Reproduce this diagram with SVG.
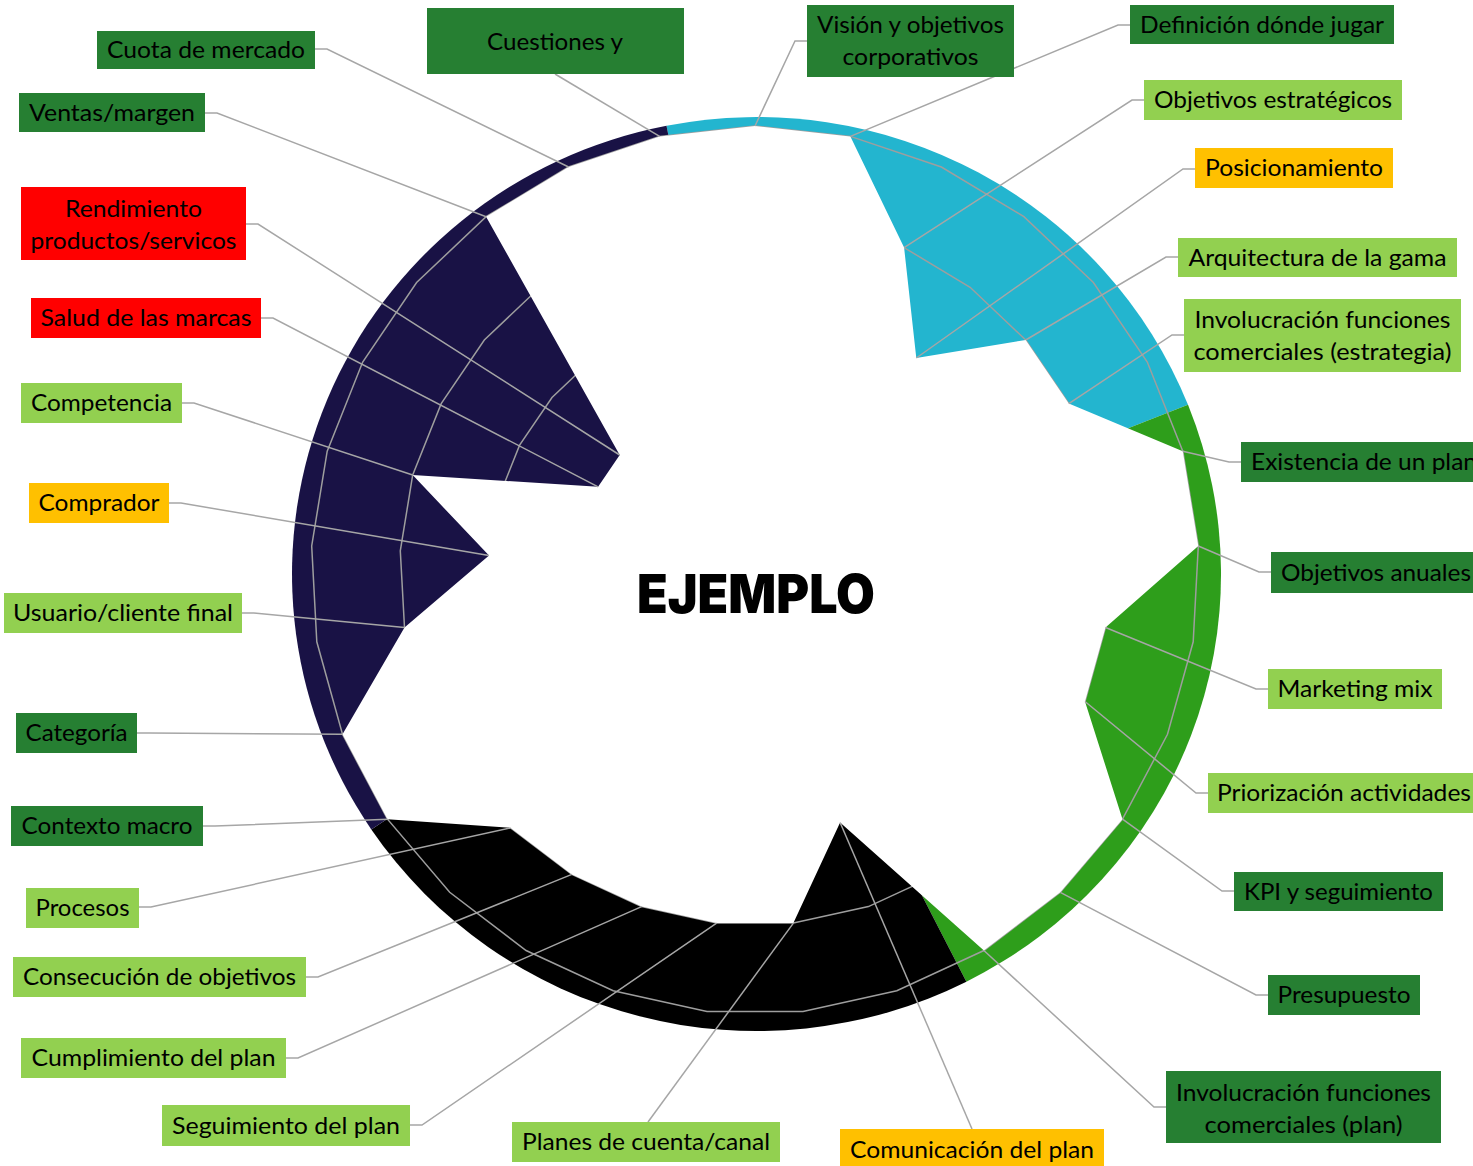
<svg xmlns="http://www.w3.org/2000/svg" width="1473" height="1166" viewBox="0 0 1473 1166">
<style>
.lb text{font-family:Lato,"Liberation Sans",sans-serif;font-size:24px;fill:#000;text-anchor:middle}
.dg{fill:#267f32}.lg{fill:#92d050}.or{fill:#ffc000}.rd{fill:#ff0000}
.grid{fill:none;stroke:#9e9e9e;stroke-width:1.5}
#connectors polyline{fill:none;stroke:#a6a6a6;stroke-width:1.5}
</style>
<rect width="1473" height="1166" fill="#fff"/>
<g id="ring">
<path d="M756.5,574 L666.5,125.7 A464.5,457 0 0 1 1188,404.8 Z" fill="#23b5cf"/>
<path d="M756.5,574 L1188,404.8 A464.5,457 0 0 1 966.4,981.7 Z" fill="#2e9e1b"/>
<path d="M756.5,574 L966.4,981.7 A464.5,457 0 0 1 371.3,829.4 Z" fill="#000"/>
<path d="M756.5,574 L371.3,829.4 A464.5,457 0 0 1 666.5,125.7 Z" fill="#191245"/>
</g>
<g id="grid">
<polygon class="grid" points="755,126 850.4,136.4 941.4,167 1023.9,216.7 1093.4,282.5 1147.3,362 1182.8,451.2 1198.3,546 1193.2,641.8 1167.5,734.3 1122.5,819.2 1060.3,892.3 983.9,950.5 896.8,990.8 803,1011.4 707,1011.4 613.2,990.8 526.1,950.5 449.7,892.3 387.5,819.2 342.5,734.3 316.8,641.8 311.7,546 327.2,451.2 362.7,362 416.6,282.5 486.1,216.7 568.6,167 659.6,136.4"/>
<polygon class="grid" points="755,214.8 831.4,223.1 904.1,247.6 970.1,287.3 1025.7,340 1068.8,403.6 1097.3,475 1109.7,550.8 1105.5,627.5 1085,701.5 1049,769.3 999.3,827.9 938.1,874.4 868.4,906.6 793.4,923.1 716.6,923.1 641.6,906.6 571.9,874.4 510.7,827.9 461,769.3 425,701.5 404.5,627.5 400.3,550.8 412.7,475 441.2,403.6 484.3,340 539.9,287.3 605.9,247.6 678.6,223.1"/>
<polygon class="grid" points="755,303.6 812.3,309.8 866.9,328.2 916.3,358 958,397.5 990.4,445.2 1011.7,498.7 1021,555.6 1017.9,613.1 1002.5,668.6 975.5,719.5 938.2,763.4 892.3,798.3 840.1,822.5 783.8,834.8 726.2,834.8 669.9,822.5 617.7,798.3 571.8,763.4 534.5,719.5 507.5,668.6 492.1,613.1 489,555.6 498.3,498.7 519.6,445.2 552,397.5 593.7,358 643.1,328.2 697.7,309.8"/>
</g>
<polygon id="data" fill="#fff" points="755,126 850.4,136.4 904.1,247.6 916.3,358 1025.7,340 1068.8,403.6 1182.8,451.2 1198.3,546 1105.5,627.5 1085,701.5 1122.5,819.2 1060.3,892.3 983.9,950.5 840.1,822.5 793.4,923.1 716.6,923.1 641.6,906.6 571.9,874.4 510.7,827.9 387.5,819.2 342.5,734.3 404.5,627.5 489,555.6 412.7,475 598.1,486.8 619.7,455 486.1,216.7 568.6,167 659.6,136.4"/>
<g id="connectors">
<polyline points="555,74 659.6,136.4"/>
<polyline points="315,49 327,49 568.6,167"/>
<polyline points="205,113 217,113 486.1,216.7"/>
<polyline points="246,224 258,224 619.7,455"/>
<polyline points="261,318 273,318 598.1,486.8"/>
<polyline points="182,403 194,403 412.7,475"/>
<polyline points="169,503 181,503 489,555.6"/>
<polyline points="242,613 254,613 404.5,627.5"/>
<polyline points="137,733 149,733 342.5,734.3"/>
<polyline points="203,826 215,826 387.5,819.2"/>
<polyline points="139,907 151,907 510.7,827.9"/>
<polyline points="306,977 318,977 571.9,874.4"/>
<polyline points="286,1058 298,1058 641.6,906.6"/>
<polyline points="410,1125 422,1125 716.6,923.1"/>
<polyline points="648,1122 793.4,923.1"/>
<polyline points="972,1129 840.1,822.5"/>
<polyline points="1166,1107 1154,1107 983.9,950.5"/>
<polyline points="1268,995 1256,995 1060.3,892.3"/>
<polyline points="1234,891 1222,891 1122.5,819.2"/>
<polyline points="1208,793 1196,793 1085,701.5"/>
<polyline points="1268,689 1256,689 1105.5,627.5"/>
<polyline points="1271,572 1259,572 1198.3,546"/>
<polyline points="1241,462 1229,462 1182.8,451.2"/>
<polyline points="1184,335 1172,335 1068.8,403.6"/>
<polyline points="1178,257 1166,257 1025.7,340"/>
<polyline points="1195,169 1183,169 916.3,358"/>
<polyline points="1144,100 1132,100 904.1,247.6"/>
<polyline points="1130,25 1118,25 850.4,136.4"/>
<polyline points="807,41 795,41 755,126"/>
</g>
<g class="lb">
<g id="n-cuestiones"><rect class="dg" x="427" y="8" width="257" height="66"/><text x="555" y="50" textLength="136" lengthAdjust="spacingAndGlyphs">Cuestiones y</text></g>
<g id="n-cuota"><rect class="dg" x="97" y="31" width="218" height="38"/><text x="206" y="58" textLength="198" lengthAdjust="spacingAndGlyphs">Cuota de mercado</text></g>
<g id="n-ventas"><rect class="dg" x="19" y="93" width="186" height="39"/><text x="112" y="121" textLength="166" lengthAdjust="spacingAndGlyphs">Ventas/margen</text></g>
<g id="n-rendimiento"><rect class="rd" x="21" y="187" width="225" height="73"/><text x="133.5" y="217" textLength="137" lengthAdjust="spacingAndGlyphs">Rendimiento</text><text x="133.5" y="249" textLength="206" lengthAdjust="spacingAndGlyphs">productos/servicos</text></g>
<g id="n-salud"><rect class="rd" x="31" y="298" width="230" height="40"/><text x="146" y="326" textLength="211" lengthAdjust="spacingAndGlyphs">Salud de las marcas</text></g>
<g id="n-competencia"><rect class="lg" x="21" y="383" width="161" height="40"/><text x="101.5" y="411" textLength="141" lengthAdjust="spacingAndGlyphs">Competencia</text></g>
<g id="n-comprador"><rect class="or" x="29" y="483" width="140" height="40"/><text x="99" y="511" textLength="121" lengthAdjust="spacingAndGlyphs">Comprador</text></g>
<g id="n-usuario"><rect class="lg" x="4" y="593" width="238" height="40"/><text x="123" y="621" textLength="220" lengthAdjust="spacingAndGlyphs">Usuario/cliente final</text></g>
<g id="n-categoria"><rect class="dg" x="16" y="713" width="121" height="40"/><text x="76.5" y="741" textLength="102" lengthAdjust="spacingAndGlyphs">Categoría</text></g>
<g id="n-contexto"><rect class="dg" x="11" y="806" width="192" height="40"/><text x="107" y="834" textLength="171" lengthAdjust="spacingAndGlyphs">Contexto macro</text></g>
<g id="n-procesos"><rect class="lg" x="26" y="888" width="113" height="40"/><text x="82.5" y="916" textLength="94" lengthAdjust="spacingAndGlyphs">Procesos</text></g>
<g id="n-consecucion"><rect class="lg" x="13" y="957" width="293" height="40"/><text x="159.5" y="985" textLength="273" lengthAdjust="spacingAndGlyphs">Consecución de objetivos</text></g>
<g id="n-cumplimiento"><rect class="lg" x="21" y="1038" width="265" height="40"/><text x="153.5" y="1066" textLength="244" lengthAdjust="spacingAndGlyphs">Cumplimiento del plan</text></g>
<g id="n-seguimiento"><rect class="lg" x="162" y="1105" width="248" height="41"/><text x="286" y="1134" textLength="228" lengthAdjust="spacingAndGlyphs">Seguimiento del plan</text></g>
<g id="n-planes"><rect class="lg" x="512" y="1122" width="268" height="40"/><text x="646" y="1150" textLength="248" lengthAdjust="spacingAndGlyphs">Planes de cuenta/canal</text></g>
<g id="n-comunicacion"><rect class="or" x="840" y="1129" width="264" height="40"/><text x="972" y="1158" textLength="244" lengthAdjust="spacingAndGlyphs">Comunicación del plan</text></g>
<g id="n-involucracion-plan"><rect class="dg" x="1166" y="1071" width="275" height="72"/><text x="1303.5" y="1101" textLength="255" lengthAdjust="spacingAndGlyphs">Involucración funciones</text><text x="1303.5" y="1133" textLength="198" lengthAdjust="spacingAndGlyphs">comerciales (plan)</text></g>
<g id="n-presupuesto"><rect class="dg" x="1268" y="975" width="152" height="40"/><text x="1344" y="1003" textLength="133" lengthAdjust="spacingAndGlyphs">Presupuesto</text></g>
<g id="n-kpi"><rect class="dg" x="1234" y="872" width="209" height="39"/><text x="1338.5" y="900" textLength="189" lengthAdjust="spacingAndGlyphs">KPI y seguimiento</text></g>
<g id="n-priorizacion"><rect class="lg" x="1208" y="773" width="265" height="40"/><text x="1344" y="801" textLength="254" lengthAdjust="spacingAndGlyphs">Priorización actividades</text></g>
<g id="n-marketing"><rect class="lg" x="1268" y="669" width="174" height="40"/><text x="1355" y="697" textLength="155" lengthAdjust="spacingAndGlyphs">Marketing mix</text></g>
<g id="n-obj-anuales"><rect class="dg" x="1271" y="552" width="202" height="41"/><text x="1376" y="581" textLength="190" lengthAdjust="spacingAndGlyphs">Objetivos anuales</text></g>
<g id="n-existencia"><rect class="dg" x="1241" y="442" width="232" height="40"/><text x="1251" y="470" style="text-anchor:start" textLength="226" lengthAdjust="spacingAndGlyphs">Existencia de un plan</text></g>
<g id="n-involucracion-estr"><rect class="lg" x="1184" y="299" width="277" height="73"/><text x="1322.5" y="328" textLength="256" lengthAdjust="spacingAndGlyphs">Involucración funciones</text><text x="1322.5" y="360" textLength="258" lengthAdjust="spacingAndGlyphs">comerciales (estrategia)</text></g>
<g id="n-arquitectura"><rect class="lg" x="1178" y="238" width="279" height="39"/><text x="1317.5" y="266" textLength="258" lengthAdjust="spacingAndGlyphs">Arquitectura de la gama</text></g>
<g id="n-posicionamiento"><rect class="or" x="1195" y="148" width="198" height="40"/><text x="1294" y="176" textLength="178" lengthAdjust="spacingAndGlyphs">Posicionamiento</text></g>
<g id="n-obj-estrategicos"><rect class="lg" x="1144" y="80" width="258" height="40"/><text x="1273" y="108" textLength="238" lengthAdjust="spacingAndGlyphs">Objetivos estratégicos</text></g>
<g id="n-definicion"><rect class="dg" x="1130" y="5" width="264" height="39"/><text x="1262" y="33" textLength="244" lengthAdjust="spacingAndGlyphs">Definición dónde jugar</text></g>
<g id="n-vision"><rect class="dg" x="807" y="5" width="207" height="72"/><text x="910.5" y="33" textLength="187" lengthAdjust="spacingAndGlyphs">Visión y objetivos</text><text x="910.5" y="65" textLength="136" lengthAdjust="spacingAndGlyphs">corporativos</text></g>
</g>
<text id="title" x="756" y="613" font-family="Inter,'Liberation Sans',sans-serif" font-weight="900" font-size="54" text-anchor="middle" textLength="238" lengthAdjust="spacingAndGlyphs" fill="#000">EJEMPLO</text>
</svg>
